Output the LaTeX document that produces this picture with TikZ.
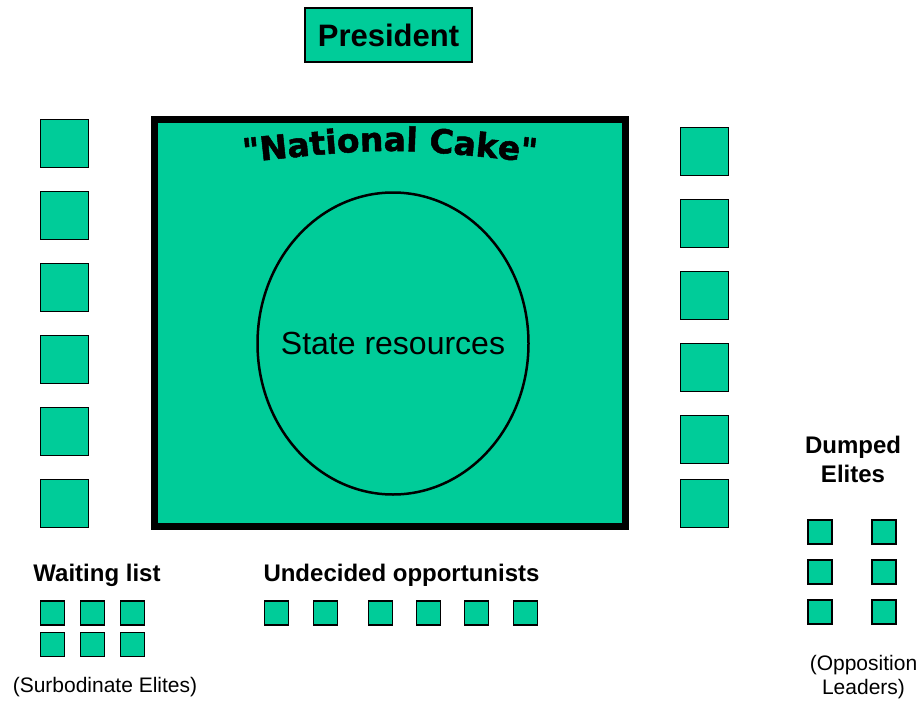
\documentclass[tikz,border=0pt]{standalone}
\usepackage{fontspec}
\setmainfont{Liberation Sans}
\newfontfamily\cakefont{DejaVu Sans}[BoldFeatures={FakeBold=1.5}]
\usepackage{xcolor}
\usepackage{tikz}
\usetikzlibrary{positioning, shapes.geometric, decorations.text}

\definecolor{cakegreen}{RGB}{0,204,153}

\begin{document}
\begin{tikzpicture}[
        x=1pt, y=-1pt,
        elite/.style={rectangle, draw, line width=1.5pt, fill=cakegreen, inner sep=0pt, outer sep=0pt, minimum size=48pt},
        smallelite/.style={elite, line width=1.2pt, minimum size=24pt},
        president/.style={rectangle, draw, line width=1.5pt, fill=cakegreen, minimum width=167pt, minimum height=54pt, font=\bfseries\fontsize{31}{31}\selectfont},
        cake/.style={rectangle, draw, line width=7pt, fill=cakegreen, inner sep=0pt, minimum width=471pt, minimum height=407pt},
        resources/.style={ellipse, draw, line width=2.5pt, inner sep=0pt, minimum width=271pt, minimum height=302pt},
        grouplabel/.style={inner sep=0pt, align=center, font=\bfseries\fontsize{24}{29}\selectfont},
        note/.style={inner sep=0pt, align=center, font=\fontsize{21}{24}\selectfont}
    ]
        \useasboundingbox (0,0) rectangle (921,701);

        % Top of the hierarchy
        \node[president] (president) at (388.5,35) {President};

        % The cake and what is in it
        \node[cake] (cake) at (389.5,322.5) {};
        \node[resources] (state) at (393,343.5) {};
        \node[inner sep=0pt, font=\fontsize{32}{32}\selectfont] (statelbl) at (state.center) {State resources};
        \path[decorate, decoration={text along path, text align=center,
            text={|\cakefont\bfseries\fontsize{33}{33}\selectfont|"National Cake"}}]
            (235,163.5) .. controls (390,146.8) .. (545,163.5);

        % Elites sitting at the cake, left side
        \node[elite] (l1) at (64.5,143.5) {};
        \node[elite, below=24pt of l1] (l2) {};
        \node[elite, below=24pt of l2] (l3) {};
        \node[elite, below=24pt of l3] (l4) {};
        \node[elite, below=24pt of l4] (l5) {};
        \node[elite, below=24pt of l5] (l6) {};

        % Elites sitting at the cake, right side
        \node[elite] (r1) at (704.5,151.5) {};
        \node[elite, below=24pt of r1] (r2) {};
        \node[elite, below=24pt of r2] (r3) {};
        \node[elite, below=24pt of r3] (r4) {};
        \node[elite, below=24pt of r4] (r5) {};
        \node[elite, below=16pt of r5] (r6) {};

        % Waiting list
        \node[grouplabel, anchor=base] (waitlbl) at (97,581) {Waiting list};
        \node[smallelite] (w1) at (52.5,613) {};
        \node[smallelite, right=16pt of w1] (w2) {};
        \node[smallelite, right=16pt of w2] (w3) {};
        \node[smallelite, below=7.5pt of w1] (w4) {};
        \node[smallelite, right=16pt of w4] (w5) {};
        \node[smallelite, right=16pt of w5] (w6) {};
        \node[note, anchor=base] (waitnote) at (105,692) {(Surbodinate Elites)};

        % Undecided opportunists
        \node[grouplabel, anchor=base] (undlbl) at (401.5,581) {Undecided opportunists};
        \node[smallelite] (u1) at (276.5,613) {};
        \node[smallelite, right=25pt of u1] (u2) {};
        \node[smallelite, right=31pt of u2] (u3) {};
        \node[smallelite, right=24pt of u3] (u4) {};
        \node[smallelite, right=24pt of u4] (u5) {};
        \node[smallelite, right=25pt of u5] (u6) {};

        % Dumped elites
        \node[grouplabel, anchor=north] (dumplbl) at (853,435.5) {Dumped\\Elites};
        \node[smallelite] (d1) at (820,532) {};
        \node[smallelite, right=40pt of d1] (d2) {};
        \node[smallelite, below=16pt of d1] (d3) {};
        \node[smallelite, right=40pt of d3] (d4) {};
        \node[smallelite, below=16pt of d3] (d5) {};
        \node[smallelite, right=40pt of d5] (d6) {};
        \node[note, anchor=north] (dumpnote) at (863.5,654.7) {(Opposition\\Leaders)};
    \end{tikzpicture}
\end{document}
